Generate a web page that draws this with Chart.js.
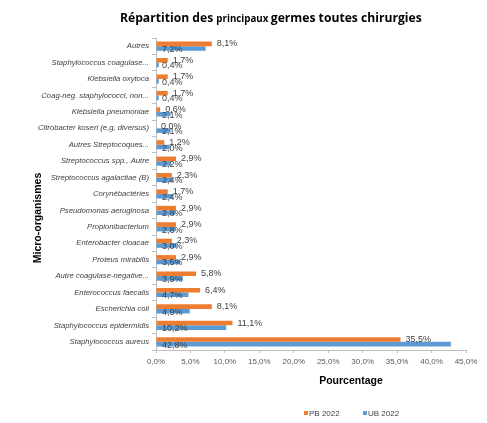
<!DOCTYPE html>
<html><head><meta charset="utf-8">
<script src="https://cdn.jsdelivr.net/npm/chart.js@4/dist/chart.umd.min.js"></script>
<style>html,body{margin:0;padding:0;background:#fff}#wrap{width:487px;height:423px}</style>
</head><body><div id="wrap"><canvas id="c" width="487" height="423"></canvas></div>
<script>
const categories = [
  "Autres",
  "Staphylococcus coagulase...",
  "Klebsiella oxytoca",
  "Coag-neg. staphylococci, non...",
  "Klebsiella pneumoniae",
  "Citrobacter koseri (e,g, diversus)",
  "Autres Streptocoques...",
  "Streptococcus spp., Autre",
  "Streptococcus agalactiae (B)",
  "Corynébactéries",
  "Pseudomonas aeruginosa",
  "Propionibacterium",
  "Enterobacter cloacae",
  "Proteus mirabilis",
  "Autre coagulase-negative...",
  "Enterococcus faecalis",
  "Escherichia coli",
  "Staphylococcus epidermidis",
  "Staphylococcus aureus"
];
const pb2022 = [8.1, 1.7, 1.7, 1.7, 0.6, 0.0, 1.2, 2.9, 2.3, 1.7, 2.9, 2.9, 2.3, 2.9, 5.8, 6.4, 8.1, 11.1, 35.5];
const ub2022 = [7.2, 0.4, 0.4, 0.4, 2.1, 2.1, 2.0, 2.2, 2.4, 2.4, 2.8, 2.8, 3.0, 3.5, 3.9, 4.7, 4.9, 10.2, 42.8];
const seriesNames = ["PB 2022", "UB 2022"];
const seriesColors = ["#ED7D31", "#5B9BD5"];
const xTicks = [0, 5, 10, 15, 20, 25, 30, 35, 40, 45];

const fmt = v => v.toFixed(1).replace('.', ',') + '%';

const overlay = {
  id: 'overlay',
  afterDatasetsDraw(chart) {
    const ctx = chart.ctx;
    ctx.save();
    ctx.font = '9px "Liberation Sans", Arial, sans-serif';
    ctx.fillStyle = '#404040';
    ctx.textBaseline = 'middle';
    ctx.textAlign = 'left';
    const x0 = chart.scales.x.getPixelForValue(0);
    chart.getDatasetMeta(0).data.forEach((el, i) => {
      ctx.fillText(fmt(pb2022[i]), el.x + 5, el.y);
    });
    chart.getDatasetMeta(1).data.forEach((el, i) => {
      ctx.fillText(fmt(ub2022[i]), x0 + 6, el.y + 1);
    });
    ctx.restore();
  },
  afterDraw(chart) {
    const ctx = chart.ctx;
    ctx.save();
    const parts = [["Répartition des ", 15], ["principaux ", 12], ["germes toutes chirurgies", 15]];
    const fam = '"Open Sans", "Liberation Sans", sans-serif';
    let total = 0;
    parts.forEach(p => { ctx.font = 'bold ' + p[1] + 'px ' + fam; total += ctx.measureText(p[0]).width; });
    const target = 302;
    const s = target / total;
    let x = 271 - target / 2;
    ctx.fillStyle = '#000';
    ctx.textBaseline = 'alphabetic';
    ctx.textAlign = 'left';
    parts.forEach(p => {
      ctx.font = 'bold ' + (p[1] * s).toFixed(2) + 'px ' + fam;
      ctx.fillText(p[0], x, 22);
      x += ctx.measureText(p[0]).width;
    });
    ctx.font = 'bold 10.5px "Liberation Sans", Arial, sans-serif';
    ctx.textAlign = 'center';
    ctx.textBaseline = 'middle';
    ctx.fillText('Pourcentage', 351, 381);
    ctx.save();
    ctx.translate(38, 218);
    ctx.rotate(-Math.PI / 2);
    ctx.fillText('Micro-organismes', 0, 0);
    ctx.restore();
    ctx.font = '8px "Liberation Sans", Arial, sans-serif';
    ctx.textAlign = 'left';
    const lx = [304, 363];
    seriesNames.forEach((n, i) => {
      ctx.fillStyle = seriesColors[i];
      ctx.fillRect(lx[i], 411, 4, 4);
      ctx.fillStyle = '#404040';
      ctx.fillText(n, lx[i] + 5, 413.5);
    });
    ctx.restore();
  }
};

new Chart(document.getElementById('c'), {
  type: 'bar',
  data: {
    labels: categories,
    datasets: [
      { label: seriesNames[0], data: pb2022, backgroundColor: seriesColors[0], categoryPercentage: 0.56, barPercentage: 1.0 },
      { label: seriesNames[1], data: ub2022, backgroundColor: seriesColors[1], categoryPercentage: 0.56, barPercentage: 1.0 }
    ]
  },
  options: {
    indexAxis: 'y',
    responsive: false,
    animation: false,
    devicePixelRatio: 1,
    layout: { padding: { top: 38, right: 21, bottom: 53, left: 0 } },
    plugins: { legend: { display: false }, title: { display: false }, tooltip: { enabled: false } },
    scales: {
      x: {
        type: 'linear', min: 0, max: 45,
        afterBuildTicks: sc => { sc.ticks = xTicks.map(v => ({ value: v })); },
        afterFit: sc => { sc.height = 20; },
        grid: { drawOnChartArea: false, drawTicks: true, tickLength: 3, color: '#bfbfbf' },
        border: { color: '#bfbfbf' },
        ticks: { color: '#595959', font: { size: 8, family: '"Liberation Sans", Arial, sans-serif' }, padding: 4, callback: v => v.toFixed(1).replace('.', ',') + '%' }
      },
      y: {
        afterFit: sc => { sc.width = 156; },
        grid: { drawOnChartArea: false, offset: true, tickLength: 4, color: '#bfbfbf' },
        border: { color: '#bfbfbf' },
        ticks: { color: '#404040', font: { size: 7.7, style: 'italic', family: '"Liberation Sans", Arial, sans-serif' }, padding: 3, autoSkip: false }
      }
    }
  },
  plugins: [overlay]
});
</script>
</body></html>
